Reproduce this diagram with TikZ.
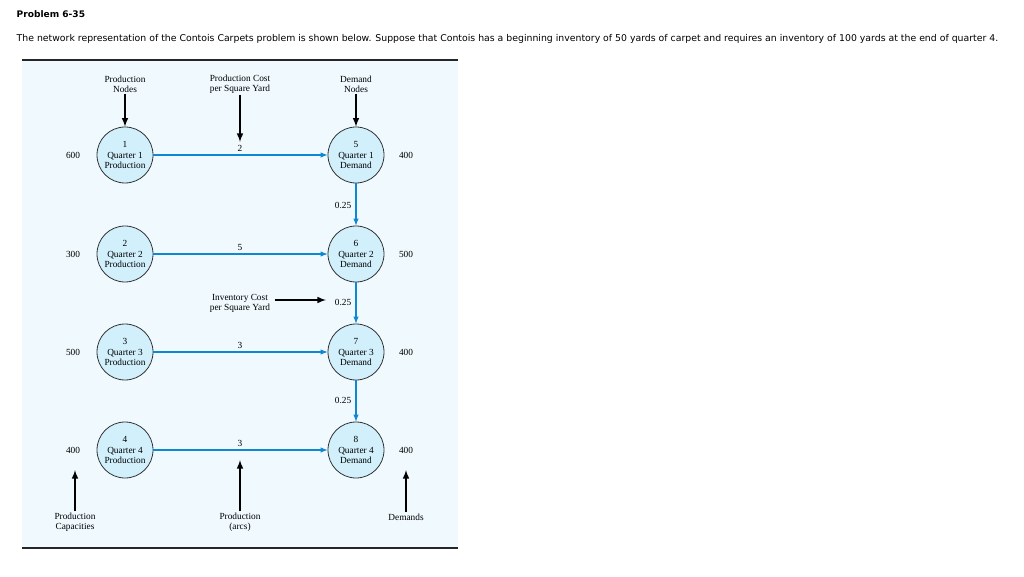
\documentclass[tikz,border=0pt]{standalone}
\usepackage{fontspec}
\setmainfont{Liberation Serif}
\newfontfamily\hdr{DejaVu Sans}
\begin{document}
\begin{tikzpicture}[x=0.75pt,y=-0.75pt,
  nd/.style={circle,draw=black!80,fill=cyan!18,minimum size=42pt,inner sep=0pt,align=center,font=\fontsize{7}{7.6}\selectfont,line width=0.6pt},
  lb/.style={font=\fontsize{7}{7.6}\selectfont,align=center,inner sep=1pt},
  fl/.style={draw=cyan!70!blue,line width=0.8pt,-latex},
  pt/.style={draw=black,line width=1.2pt,-latex}]
\useasboundingbox (0,0) rectangle (1024,577);
\fill[cyan!6] (22,60) rectangle (458,548);
\draw[line width=2.2pt,black!85] (22,60) -- (458,60);
\draw[line width=2.2pt,black!85] (22,548) -- (458,548);
\node[anchor=west,font=\hdr\fontsize{6.8}{8}\selectfont\bfseries] (t) at (12,14) {Problem 6-35};
\node[anchor=west,font=\hdr\fontsize{7}{8}\selectfont] (t2) at (12,39) {The network representation of the Contois Carpets problem is shown below. Suppose that Contois has a beginning inventory of 50 yards of carpet and requires an inventory of 100 yards at the end of quarter 4.};
\foreach \i/\y/\s/\d/\c in {1/155/600/400/2,2/254/300/500/5,3/352/500/400/3,4/450/400/400/3}{
  \pgfmathtruncatemacro{\j}{\i+4}
  \node[nd] (p\i) at (125,\y) {\i\\Quarter \i\\Production};
  \node[nd] (d\i) at (356,\y) {\j\\Quarter \i\\Demand};
  \node[lb] (s\i) at (73,\y) {\s};
  \node[lb] (r\i) at (406,\y) {\d};
  \draw[fl] (p\i) -- (d\i);
  \node[lb] (c\i) at (240,\y-7) {\c};
}
\foreach \a/\b/\y in {1/2/205,2/3/302,3/4/400}{
  \draw[fl] (d\a) -- (d\b);
  \node[lb] (v\a) at (343,\y) {0.25};
}
\node[lb] (hp) at (125,84) {Production\\Nodes};
\node[lb] (hc) at (240,84) {Production Cost\\per Square Yard};
\node[lb] (hd) at (356,84) {Demand\\Nodes};
\draw[pt] (hp) -- (p1);
\draw[pt] (hc) -- (240,142);
\draw[pt] (hd) -- (d1);
\node[lb] (ic) at (240,303) {Inventory Cost\\per Square Yard};
\draw[pt] (ic.east) ++(3,-3) coordinate (ia) -- (326,300);
\node[lb] (fp) at (75,522) {Production\\Capacities};
\node[lb] (fa) at (240,522) {Production\\(arcs)};
\node[lb] (fd) at (406,517) {Demands};
\draw[pt] (fp.north) -- (75,470);
\draw[pt] (fa.north) -- (240,460);
\draw[pt] (fd.north) -- (406,470);
\end{tikzpicture}
\end{document}
